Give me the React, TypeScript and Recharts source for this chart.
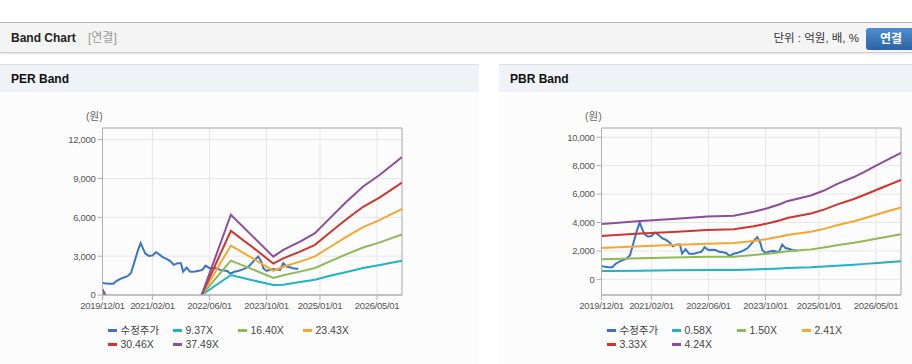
import React from 'react';
import { LineChart, Line, XAxis, YAxis, CartesianGrid, ReferenceArea } from 'recharts';

// month index: 0 = 2019/12/01
const xTickMonths = [0, 14, 30, 46, 61, 77];
const xTickLabels = ['2019/12/01', '2021/02/01', '2022/06/01', '2023/10/01', '2025/01/01', '2026/05/01'];

const priceMonths = [0, 1, 2, 3, 4, 5, 6, 7, 8, 9, 10, 10.7, 11.5, 12, 13, 14, 15, 16, 17, 18, 19, 20, 21, 22, 22.6, 23.6, 24.5, 25, 26, 27, 28, 28.9, 30, 31, 32, 33, 34, 35, 35.7, 36.5, 37, 38, 39, 40, 41, 42, 43, 43.7, 44.5, 45.1, 46, 47, 48, 49, 49.8, 50.7, 51.6, 52.5, 53.5, 54.9];
const priceValues = [950, 880, 860, 860, 1100, 1250, 1350, 1450, 1700, 2600, 3500, 4000, 3500, 3200, 3020, 3050, 3300, 3120, 2900, 2790, 2620, 2330, 2450, 2450, 1810, 2120, 1810, 1800, 1810, 1880, 1940, 2270, 2070, 2080, 2060, 1940, 1900, 1860, 1680, 1720, 1800, 1850, 1940, 2050, 2200, 2500, 2800, 2970, 2600, 2070, 1860, 1950, 2010, 1960, 1940, 2450, 2200, 2150, 2070, 2010];

const perBandMonths = [0, 0.8, 1, 27.8, 36, 42, 47.9, 50.7, 55.4, 59.6, 63.8, 68.5, 73.1, 77.8, 84];
const per937 = [112, 0, null, 0, 1548, 1142, 774, 800, 1000, 1180, 1483, 1780, 2080, 2320, 2650];
const per1640 = [197, 0, null, 0, 2656, 1999, 1320, 1524, 1806, 2088, 2596, 3160, 3669, 4064, 4680];
const per2343 = [281, 0, null, 0, 3817, 2856, 1870, 2177, 2580, 2983, 3709, 4515, 5241, 5806, 6660];
const per3046 = [366, 0, null, 0, 4955, 3713, 2430, 2830, 3354, 3878, 4822, 5870, 6814, 7548, 8680];
const per3749 = [450, 0, null, 0, 6200, 4570, 2965, 3483, 4128, 4772, 5935, 7224, 8386, 9290, 10658];

const pbrBandMonths = [0, 3, 10.9, 20, 29.7, 37.1, 42.7, 46.5, 50.2, 52.1, 58.7, 62.4, 66, 70.8, 74, 77.4, 84];
const pbr058 = [580, 590, 610, 640, 660, 665, 700, 730, 770, 800, 850, 900, 960, 1030, 1090, 1150, 1280];
const pbr150 = [1420, 1430, 1480, 1530, 1590, 1600, 1710, 1800, 1900, 1970, 2110, 2240, 2400, 2570, 2720, 2880, 3170];
const pbr241 = [2213, 2245, 2330, 2416, 2512, 2560, 2706, 2842, 3012, 3126, 3354, 3553, 3808, 4092, 4320, 4576, 5059];
const pbr333 = [3058, 3102, 3220, 3338, 3472, 3520, 3739, 3927, 4163, 4320, 4634, 4909, 5262, 5655, 5969, 6322, 6990];
const pbr424 = [3894, 3950, 4100, 4250, 4420, 4470, 4760, 5000, 5300, 5500, 5900, 6250, 6700, 7200, 7600, 8050, 8900];

const perLabels = ['수정주가', '9.37X', '16.40X', '23.43X', '30.46X', '37.49X'];
const pbrLabels = ['수정주가', '0.58X', '1.50X', '2.41X', '3.33X', '4.24X'];
const perYTicks = [0, 3000, 6000, 9000, 12000];
const pbrYTicks = [0, 2000, 4000, 6000, 8000, 10000];

const COLORS = ['#3a74c4', '#1fb3c6', '#8dba54', '#f4a72f', '#d1342c', '#8e4c9c'];

const toRows = (months: number[], vals: (number | null)[]) =>
  months.map((m, i) => ({ m, v: vals[i] }));

const tickFont = { fill: '#555', fontSize: 9.5, letterSpacing: '-0.3px', fontFamily: '"Liberation Sans", Arial, sans-serif' };

function BandChart({ series, yDomain, yTicks }: { series: { months: number[]; vals: (number | null)[] }[]; yDomain: [number, number]; yTicks: number[] }) {
  return (
    <LineChart width={420} height={215} margin={{ top: 28, right: 18, bottom: 0, left: 42.5 }}>
      <CartesianGrid stroke="#e6e6e6" strokeWidth={1} />
      <ReferenceArea x1={0} x2={84} y1={yDomain[0]} y2={yDomain[1]} fill="none" stroke="#b0b0b0" strokeWidth={1} />
      <XAxis
        type="number"
        dataKey="m"
        domain={[0, 84]}
        ticks={xTickMonths}
        tickFormatter={(v: number) => xTickLabels[xTickMonths.indexOf(v)] ?? ''}
        interval={0}
        height={20}
        tickSize={5}
        tickMargin={2}
        stroke="#b0b0b0"
        tick={tickFont}
        allowDataOverflow
      />
      <YAxis
        type="number"
        domain={yDomain}
        ticks={yTicks}
        width={60}
        tickSize={5}
        tickMargin={2}
        stroke="#b0b0b0"
        tick={tickFont}
        tickFormatter={(v: number) => v.toLocaleString('en-US')}
        allowDataOverflow
      />
      {series.map((s, i) => (
        <Line
          key={i}
          data={toRows(s.months, s.vals)}
          dataKey="v"
          type="linear"
          stroke={COLORS[i]}
          strokeWidth={2}
          dot={false}
          activeDot={false}
          isAnimationActive={false}
        />
      ))}
    </LineChart>
  );
}

function Legend({ labels }: { labels: string[] }) {
  return (
    <>
      {labels.map((lb, i) => {
        const row = Math.floor(i / 4);
        const col = i % 4;
        return (
          <div
            key={lb}
            style={{
              position: 'absolute',
              left: 107.5 + col * 65,
              top: 259 + row * 14,
              height: 14,
              lineHeight: '14px',
              fontSize: 10.5,
              color: '#444',
              whiteSpace: 'nowrap',
              display: 'flex',
              alignItems: 'center',
            }}
          >
            <span style={{ display: 'inline-block', width: 9, height: 3, background: COLORS[i], marginRight: 4 }} />
            <span>{lb}</span>
          </div>
        );
      })}
    </>
  );
}

function Panel({ left, width, title, children, labels }: { left: number; width: number; title: string; children: React.ReactNode; labels: string[] }) {
  return (
    <div style={{ position: 'absolute', left, top: 64, width, height: 300, background: '#fcfcfc' }}>
      <div
        style={{
          position: 'absolute', left: 0, top: 0, width, height: 28, background: '#eff3f8',
          borderTop: '1px solid #dde0e4', boxSizing: 'border-box',
        }}
      >
        <span style={{ position: 'absolute', left: 11, top: 0, lineHeight: '28px', fontSize: 12, fontWeight: 'bold', color: '#111' }}>{title}</span>
      </div>
      <div style={{ position: 'absolute', left: 86, top: 46, fontSize: 10.5, color: '#666', lineHeight: '12px' }}>(원)</div>
      <div style={{ position: 'absolute', left: 0, top: 36 }}>{children}</div>
      <Legend labels={labels} />
    </div>
  );
}

export default function App() {
  const perSeries = [
    { months: priceMonths, vals: priceValues },
    { months: perBandMonths, vals: per937 },
    { months: perBandMonths, vals: per1640 },
    { months: perBandMonths, vals: per2343 },
    { months: perBandMonths, vals: per3046 },
    { months: perBandMonths, vals: per3749 },
  ];
  const pbrSeries = [
    { months: priceMonths, vals: priceValues },
    { months: pbrBandMonths, vals: pbr058 },
    { months: pbrBandMonths, vals: pbr150 },
    { months: pbrBandMonths, vals: pbr241 },
    { months: pbrBandMonths, vals: pbr333 },
    { months: pbrBandMonths, vals: pbr424 },
  ];
  return (
    <div
      style={{
        position: 'absolute', left: 0, top: 0, width: 912, height: 364, overflow: 'hidden', background: '#fff',
        fontFamily: '"Liberation Sans", Arial, "Noto Sans CJK KR", sans-serif',
      }}
    >
      <div
        style={{
          position: 'absolute', left: 0, top: 22, width: 912, height: 31, background: '#f4f4f4',
          borderTop: '1px solid #b4b4b4', borderBottom: '1px solid #cdcdcd', boxSizing: 'border-box',
          boxShadow: '0 1px 2px rgba(0,0,0,0.12)',
        }}
      >
        <span style={{ position: 'absolute', left: 11, top: 0, lineHeight: '30px', fontSize: 12, fontWeight: 'bold', color: '#222' }}>Band Chart</span>
        <span style={{ position: 'absolute', left: 88, top: 0, lineHeight: '30px', fontSize: 12, color: '#999' }}>[연결]</span>
        <span style={{ position: 'absolute', right: 53, top: 0, lineHeight: '30px', fontSize: 11.5, color: '#333' }}>단위 : 억원, 배, %</span>
        <div
          style={{
            position: 'absolute', left: 866, top: 5, width: 50, height: 22, borderRadius: 3,
            background: 'linear-gradient(#4d8dd2, #2b63a3)', color: '#fff', fontWeight: 'bold', fontSize: 12,
            lineHeight: '22px', textAlign: 'left', paddingLeft: 14, boxSizing: 'border-box',
          }}
        >
          연결
        </div>
      </div>
      <Panel left={0} width={479} title="PER Band" labels={perLabels}>
        <BandChart series={perSeries} yDomain={[0, 12900]} yTicks={perYTicks} />
      </Panel>
      <Panel left={499} width={413} title="PBR Band" labels={pbrLabels}>
        <BandChart series={pbrSeries} yDomain={[-1100, 10650]} yTicks={pbrYTicks} />
      </Panel>
    </div>
  );
}
